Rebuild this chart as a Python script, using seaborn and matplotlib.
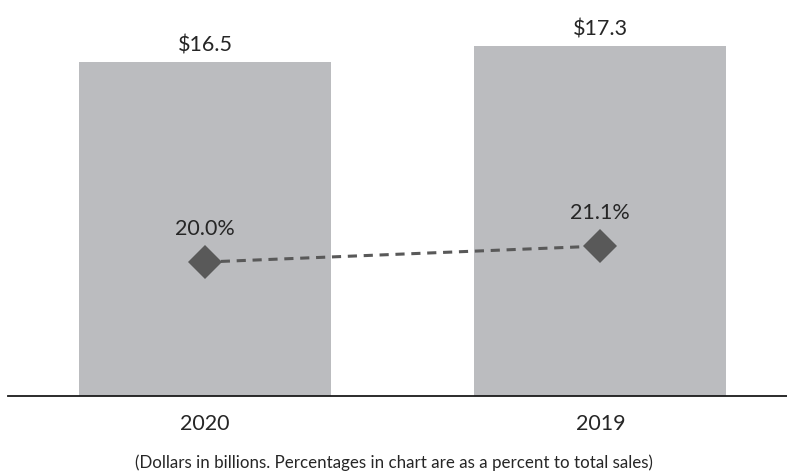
import matplotlib
matplotlib.use("Agg")
import matplotlib.pyplot as plt
import seaborn as sns
import pandas as pd

years = ["2020", "2019"]
sales = [16.5, 17.3]
pct = [20.0, 21.1]
sales_labels = ["$16.5", "$17.3"]
pct_labels = ["20.0%", "21.1%"]
caption = "(Dollars in billions. Percentages in chart are as a percent to total sales)"

sns.set_theme(style="white")
plt.rcParams["font.family"] = ["Lato", "DejaVu Sans"]

W, H = 787, 476
fig = plt.figure(figsize=(W / 100, H / 100), dpi=100)
base = 395.5
ax = fig.add_axes([8 / W, (H - base) / H, (W - 8) / W, base / H])

df = pd.DataFrame({"year": years, "sales": sales, "pct": pct})
sns.barplot(data=df, x="year", y="sales", color="#BBBCBF", width=0.637,
            saturation=1, ax=ax, edgecolor="none")
ax.set_xlim(-0.498, 1.472)
ax.set_ylim(0, 19.58)
ax.set_xlabel("")
ax.set_ylabel("")
ax.set_yticks([])
for s in ["top", "right", "left"]:
    ax.spines[s].set_visible(False)
ax.spines["bottom"].set_color("#1a1a1a")
ax.spines["bottom"].set_linewidth(1.3)
ax.tick_params(axis="x", length=0, pad=13, labelsize=15.5, labelcolor="#262626")

for i, (v, lab) in enumerate(zip(sales, sales_labels)):
    ax.annotate(lab, (i, v), xytext=(0, 17), textcoords="offset pixels",
                ha="center", va="center", fontsize=15.5, color="#262626")

ax2 = ax.twinx()
ax2.set_ylim(10.84, 37.99)
sns.lineplot(x=[0, 1], y=pct, ax=ax2, color="#595959", linestyle=(0, (3, 2.2)),
             linewidth=2.2, marker="D", markersize=17, markeredgewidth=0)
ax2.set_yticks([])
ax2.set_ylabel("")
for s in ax2.spines.values():
    s.set_visible(False)
for i, (v, lab) in enumerate(zip(pct, pct_labels)):
    ax2.annotate(lab, (i, v), xytext=(0, 33), textcoords="offset pixels",
                 ha="center", va="center", fontsize=15.5, color="#262626")

fig.text(0.5, (H - 463) / H, caption, ha="center", va="center",
         fontsize=12.15, color="#262626")

fig.savefig("out.png", dpi=100)
